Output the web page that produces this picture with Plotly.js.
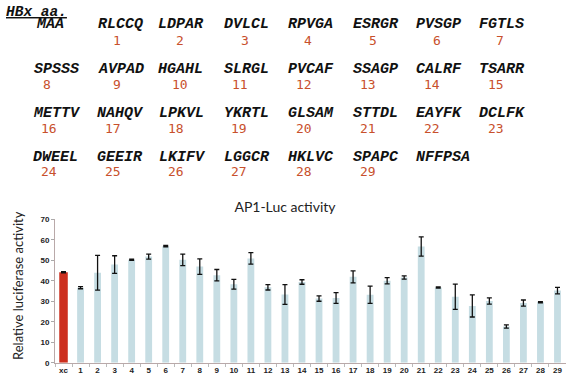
<!DOCTYPE html>
<html><head><meta charset="utf-8">
<script src="https://cdn.plot.ly/plotly-3.0.1.min.js"></script>
<style>html,body{margin:0;padding:0;background:#fff}#chart{width:566px;height:381px}</style>
</head><body><div id="chart"></div>
<script>
// ---- data ----
const categories = ["xc","1","2","3","4","5","6","7","8","9","10","11","12","13","14","15","16","17","18","19","20","21","22","23","24","25","26","27","28","29"];
const activity = [44.2, 36.6, 43.9, 47.9, 50.3, 51.8, 56.9, 50.2, 46.9, 42.7, 38.3, 50.9, 36.8, 33.3, 39.4, 31.3, 31.6, 41.9, 33.2, 40.0, 41.6, 56.7, 36.7, 32.2, 27.7, 30.1, 17.7, 29.1, 29.5, 35.2];
const errors   = [0.3, 0.5, 8.5, 4.3, 0.3, 1.2, 0.3, 2.8, 3.8, 2.8, 2.4, 2.8, 1.3, 4.8, 1.1, 1.3, 2.6, 2.9, 4.2, 1.5, 0.8, 4.7, 0.3, 6.2, 5.4, 1.5, 0.8, 1.5, 0.3, 1.6];
const yTicks = [0,10,20,30,40,50,60,70];

const seqRow1 = ["MAA","RLCCQ","LDPAR","DVLCL","RPVGA","ESRGR","PVSGP","FGTLS"];
const seqRow2 = ["SPSSS","AVPAD","HGAHL","SLRGL","PVCAF","SSAGP","CALRF","TSARR"];
const seqRow3 = ["METTV","NAHQV","LPKVL","YKRTL","GLSAM","STTDL","EAYFK","DCLFK"];
const seqRow4 = ["DWEEL","GEEIR","LKIFV","LGGCR","HKLVC","SPAPC","NFFPSA"];
const numRow1 = ["","1","2","3","4","5","6","7"];
const numRow2 = ["8","9","10","11","12","13","14","15"];
const numRow3 = ["16","17","18","19","20","21","22","23"];
const numRow4 = ["24","25","26","27","28","29"];

// ---- layout helpers (pixel positions) ----
const W = 566, H = 381;
const px = x => x / W, py = y => 1 - y / H;
const seqColX = [
  [35, 96.5, 157, 222.5, 286.7, 351.7, 415, 478.3],
  [33, 96.5, 156.5, 222.5, 286.7, 351.7, 414.5, 478.3],
  [32, 96, 158, 222.5, 286.7, 351.7, 415, 478.3],
  [32, 96, 158, 222.5, 286.7, 351.7, 415]
];
const numColX = [
  [0, 116.7, 180, 245, 308.3, 372.7, 436.7, 500],
  [46.7, 116.7, 180, 240, 304.3, 368.3, 432.3, 496],
  [49.3, 113.3, 176, 239.3, 304, 368.3, 432.3, 496],
  [49.3, 112.7, 176, 239.3, 304.3, 368.3]
];
const seqRowY = [25, 70, 113.5, 157];
const numRowY = [40.5, 84, 128, 172];

const seqFont = {family: "Liberation Mono, Courier New, monospace", size: 15, color: "#111", weight: "bold"};
const numFont = {family: "DejaVu Sans Mono, monospace", size: 13, color: "#c8502c"};

const annotations = [];
[seqRow1, seqRow2, seqRow3, seqRow4].forEach((row, r) => {
  row.forEach((s, i) => annotations.push({
    text: "<i>" + s + "</i>", xref: "paper", yref: "paper",
    x: px(seqColX[r][i]), y: py(seqRowY[r]), xanchor: "left", yanchor: "middle",
    showarrow: false, font: seqFont, borderpad: 0
  }));
});
[numRow1, numRow2, numRow3, numRow4].forEach((row, r) => {
  row.forEach((s, i) => { if (s) annotations.push({
    text: s, xref: "paper", yref: "paper",
    x: px(numColX[r][i]), y: py(numRowY[r]), xanchor: "center", yanchor: "middle",
    showarrow: false, font: numFont, borderpad: 0
  }); });
});
annotations.push({
  text: "<i><u>HBx aa.</u></i>", xref: "paper", yref: "paper",
  x: px(5), y: py(12), xanchor: "left", yanchor: "middle", showarrow: false,
  font: {family: "Liberation Mono, Courier New, monospace", size: 14.5, color: "#111", weight: "bold"}, borderpad: 0
});
annotations.push({
  text: "Relative luciferase activity", xref: "paper", yref: "paper",
  x: px(18), y: py(286), xanchor: "center", yanchor: "middle", textangle: -90,
  showarrow: false, font: {family: "Lato, Open Sans, sans-serif", size: 13, color: "#222"}
});

const barColors = categories.map((c, i) => i === 0 ? "#cc2f1e" : "#c6dde3");
const barWidths = categories.map((c, i) => i === 0 ? 0.5 : 0.4);

const trace = {
  type: "bar", x: categories, y: activity,
  marker: {color: barColors, line: {width: 0}},
  width: barWidths,
  error_y: {type: "data", array: errors, visible: true, color: "#111", thickness: 1.3, width: 2.5}
};

const layout = {
  width: W, height: H,
  margin: {l: 0, r: 0, t: 0, b: 0, pad: 0},
  paper_bgcolor: "#fff", plot_bgcolor: "#fff",
  showlegend: false,
  title: {text: "AP1-Luc activity", x: px(285), y: py(207), xref: "paper", yref: "paper",
          xanchor: "center", yanchor: "middle",
          font: {family: "Lato, Open Sans, sans-serif", size: 14, color: "#222"}},
  xaxis: {domain: [px(55), 1], type: "category", range: [-0.5, 29.5],
          showline: true, linecolor: "#b9a9a9", linewidth: 1,
          ticks: "outside", tickson: "boundaries", ticklen: 3, tickcolor: "#bbb",
          tickangle: 0,
          showgrid: false, zeroline: false, fixedrange: true,
          tickfont: {family: "Liberation Sans, Arial, sans-serif", size: 8, color: "#222", weight: "bold"}},
  yaxis: {domain: [py(362.7), py(219.3)], range: [0, 70], tickvals: yTicks,
          showline: true, linecolor: "#b9a9a9", linewidth: 1,
          ticks: "outside", ticklen: 3, tickcolor: "#aaa",
          showgrid: false, zeroline: false, fixedrange: true,
          tickfont: {family: "Liberation Sans, Arial, sans-serif", size: 8, color: "#222", weight: "bold"}},
  annotations: annotations
};

Plotly.newPlot("chart", [trace], layout, {displayModeBar: false, staticPlot: true});
</script>
</body></html>
